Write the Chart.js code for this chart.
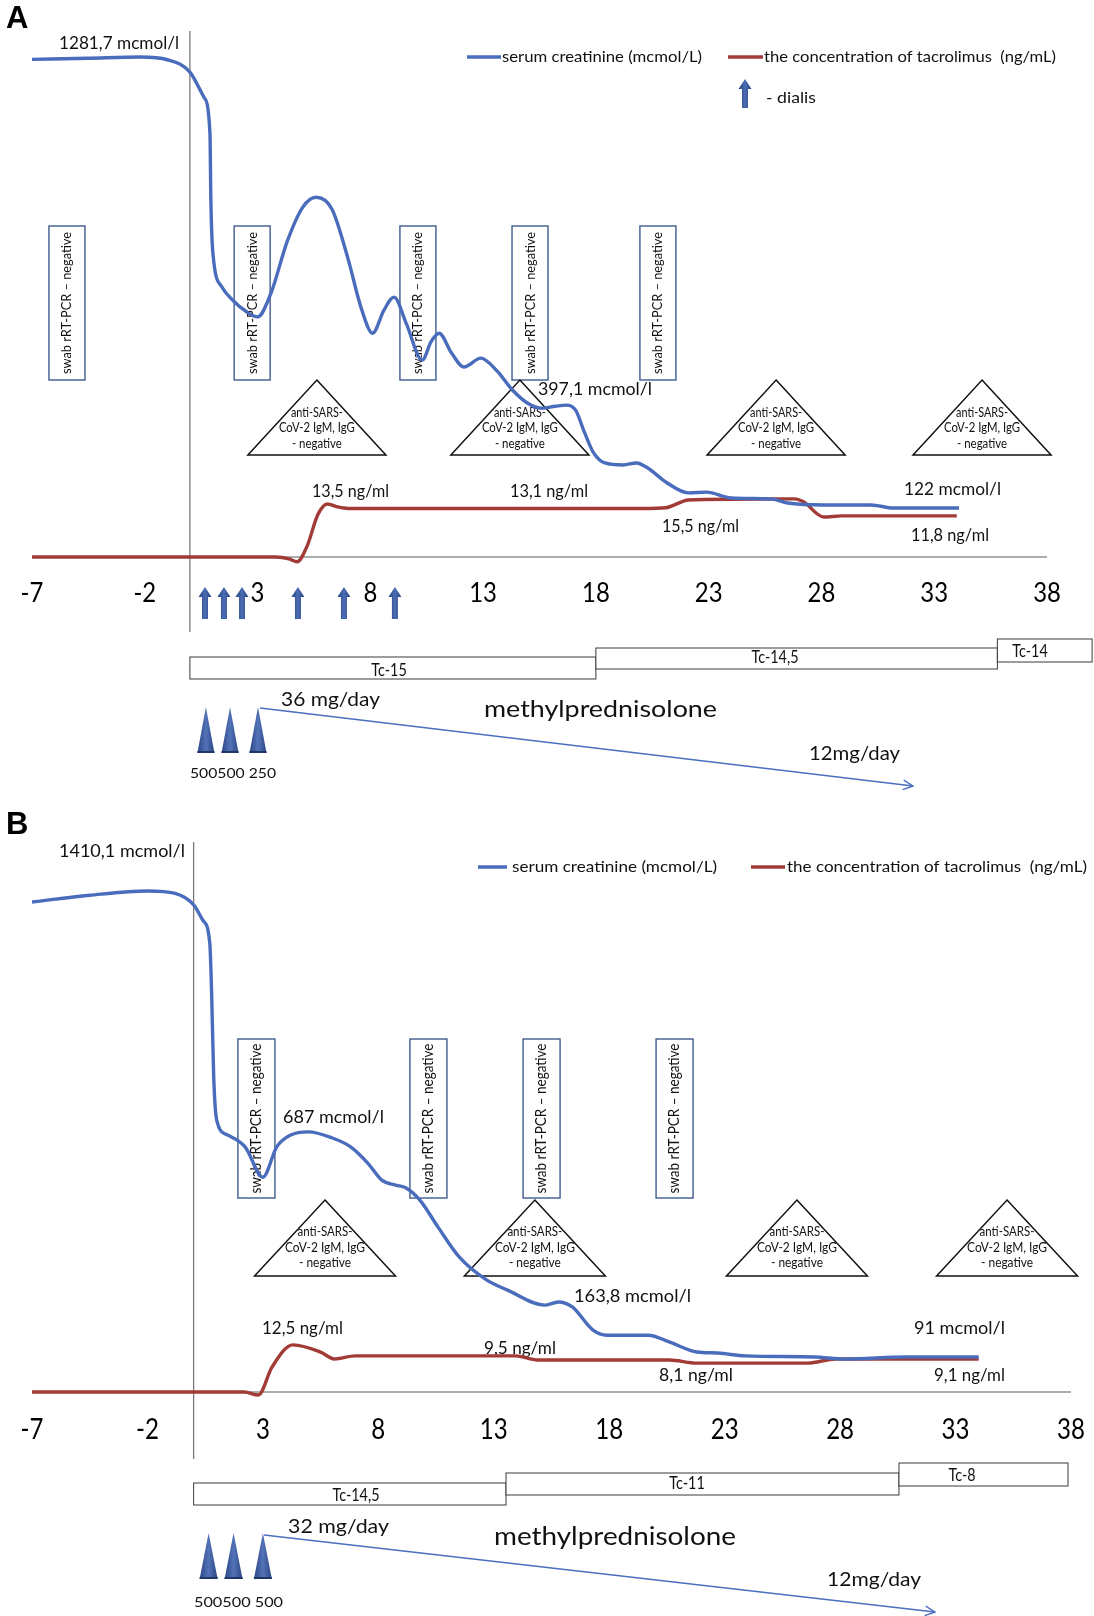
<!DOCTYPE html>
<html>
<head>
<meta charset="utf-8">
<script src="https://cdn.jsdelivr.net/npm/chart.js@4"></script>
<style>
  body { margin: 0; background: #fff; width: 1094px; height: 1616px; overflow: hidden; }
  canvas { display: block; }
</style>
</head>
<body>
<canvas id="chartA" width="1094" height="808"></canvas>
<canvas id="chartB" width="1094" height="808"></canvas>
<script>
// ---------- data ----------
const xTicks = [-7, -2, 3, 8, 13, 18, 23, 28, 33, 38];

// Panel A
const creatDaysA = [-7, -4.5, -2.2, -1, 0, 0.62, 0.89, 0.93, 1.02, 1.42, 1.9, 2.5, 3.0, 3.6, 4.3, 5.0, 5.6, 6.3, 7.0, 7.6, 8.1, 8.6, 9.05, 9.6, 10.3, 10.7, 11.05, 11.6, 12.15, 12.9, 13.6, 14.3, 15.0, 15.6, 16.2, 16.7, 17.1, 17.5, 17.9, 18.4, 19.2, 19.8, 20.3, 21.1, 22.1, 22.9, 24.0, 25.8, 26.5, 28.1, 30.2, 31.2, 34.1];
const creatA = [1281, 1284, 1287, 1280, 1248, 1184, 1091, 919, 782, 695, 661, 632, 618, 680, 810, 900, 926, 895, 770, 640, 576, 635, 669, 600, 507, 555, 576, 525, 489, 512, 480, 430, 395, 383, 388, 391, 378, 320, 268, 242, 237, 242, 229, 193, 165, 167, 152, 149, 139, 134, 134, 126, 126];
const tacroDaysA = [-7, 0, 3.8, 4.4, 4.75, 5.2, 5.67, 6.1, 6.5, 7.0, 13, 20.1, 21.1, 22.1, 24, 26.8, 27.2, 28.1, 28.9, 34];
const tacroA = [0, 0, 0, -0.5, -1.3, 3, 11.4, 14.3, 13.6, 13.1, 13.1, 13.1, 13.3, 15.4, 15.6, 15.7, 14.9, 10.8, 11.1, 11.1];
const swabDaysA = [-5.45, 2.76, 10.11, 15.08, 20.75];
const antibodyDaysA = [5.63, 14.63, 25.99, 35.12];
const dialysisDaysA = [0.67, 1.51, 2.31, 4.79, 6.83, 9.09];
const tcLabelsA = ['Tc-15', 'Tc-14,5', 'Tc-14'];
const tcStartA = [0, 18, 35.8];
const tcEndA = [18, 35.8, 40];
const pulseDaysA = [0.71, 1.78, 3.02];
const valueTextA = ['1281,7 mcmol/l', '13,5 ng/ml', '13,1 ng/ml', '397,1 mcmol/l', '15,5 ng/ml', '122 mcmol/l', '11,8 ng/ml'];
const methylTextA = ['36 mg/day', 'methylprednisolone', '12mg/day', '500500 250'];

// Panel B
const creatDaysB = [-7, -4.5, -2.0, -0.8, 0, 0.4, 0.7, 0.78, 0.87, 1.0, 1.47, 2.23, 3.0, 3.6, 4.2, 4.97, 6.0, 6.8, 7.55, 8.15, 8.75, 9.2, 9.8, 10.6, 11.5, 12.7, 13.6, 15.2, 15.8, 16.4, 17.3, 17.9, 19.7, 20.6, 21.8, 22.7, 23.9, 26.9, 28.2, 30.9, 34];
const creatB = [1371, 1390, 1402, 1395, 1363, 1320, 1256, 1116, 881, 761, 719, 686, 601, 686, 719, 728, 711, 686, 640, 593, 579, 571, 537, 460, 378, 313, 285, 243, 252, 238, 173, 159, 159, 140, 112, 109, 101, 98, 92, 98, 98];
const tacroDaysB = [-7, 0, 2.2, 2.8, 3.4, 4.3, 5.5, 6.1, 7.0, 13.95, 14.9, 20.6, 21.8, 26.6, 27.8, 34];
const tacroB = [0, 0, 0, -0.8, 6.6, 12.4, 10.5, 8.7, 9.5, 9.5, 8.4, 8.4, 7.6, 7.6, 8.7, 8.7];
const swabDaysB = [2.72, 10.17, 15.07, 20.83];
const antibodyDaysB = [5.69, 14.78, 26.13, 35.23];
const dialysisDaysB = [];
const tcLabelsB = ['Tc-14,5', 'Tc-11', 'Tc-8'];
const tcStartB = [0, 13.53, 30.55];
const tcEndB = [13.53, 30.55, 37.87];
const pulseDaysB = [0.65, 1.73, 3.0];
const valueTextB = ['1410,1 mcmol/l', '687 mcmol/l', '163,8 mcmol/l', '12,5 ng/ml', '9,5 ng/ml', '91 mcmol/l', '8,1 ng/ml', '9,1 ng/ml'];
const methylTextB = ['32 mg/day', 'methylprednisolone', '12mg/day', '500500 500'];

const seriesLabels = ['serum creatinine (mcmol/L)', 'the concentration of tacrolimus  (ng/mL)'];

// ---------- styles / layout ----------
const FONT = 'Lato, "Open Sans", sans-serif';
const BLUE = '#4A6CBC';
const RED = '#A23B36';
const BOX = '#3F5C90';
const INK = '#111';

const layoutA = {
  padding: { left: 32, right: 47, top: 31, bottom: 251 },
  creatMax: 1354, tacroMax: 142,
  letter: ['A', 6, 19, 31],
  vLineBottom: 632,
  legend: { y: 57, lines: [[467, 501], [728, 763]], textX: [502, 764], textW: [200, 292], size: 16 },
  dialisKey: { x: 745, top: 79, bottom: 108, textX: 766, textY: 98, textW: 50 },
  swab: { w: 36, top: 226, bottom: 380, size: 14, textW: 142 },
  antibody: { apex: 380, base: 455, half: 69, lineY: [413, 428, 444], lineW: [52, 76, 50], size: 12.5 },
  valuePos: [[59, 43, 120], [312, 491, 77], [510, 491, 78], [538, 389, 114], [662, 526, 77], [904, 489, 97], [911, 535, 78]],
  valueSize: 17.5,
  dialysis: { top: 587, bottom: 619 },
  ticks: { y: 594, size: 26, sx: 0.92 },
  tc: { top: [657, 648, 639], bottom: [679, 669, 662], textX: [389, 775, 1030], textY: [670, 657, 651], size: 18, sx: 0.8 },
  pulse: { apex: 707, base: 753, half: 8.5 },
  methylPos: [[281, 700, 99, 19], [484, 710, 233, 23], [809, 754, 91, 19], [190, 773, 86, 14]],
  arrow: [[260, 708], [913, 786]],
};

const layoutB = {
  padding: { left: 32, right: 23, top: 34, bottom: 224 },
  creatMax: 1539, tacroMax: 144.7,
  letter: ['B', 6, 17, 31],
  vLineBottom: 651,
  legend: { y: 59, lines: [[478, 507], [751, 785]], textX: [512, 787], textW: [205, 300], size: 16 },
  dialisKey: null,
  swab: { w: 37, top: 231, bottom: 390, size: 14.5, textW: 150 },
  antibody: { apex: 392, base: 468, half: 70.5, lineY: [424, 440, 455], lineW: [55, 80, 52], size: 12.5 },
  valuePos: [[59, 43, 126], [283, 309, 101], [574, 488, 117], [262, 520, 81], [484, 540, 72], [914, 520, 91], [659, 567, 74], [934, 567, 71]],
  valueSize: 17.5,
  dialysis: null,
  ticks: { y: 622, size: 29, sx: 0.83 },
  tc: { top: [675, 665, 655], bottom: [697, 687, 678], textX: [356, 687, 962], textY: [687, 675, 667], size: 18, sx: 0.8 },
  pulse: { apex: 725, base: 771, half: 9 },
  methylPos: [[288, 719, 101, 20], [494, 729, 242, 25], [827, 772, 94, 20], [194, 794, 89, 14]],
  arrow: [[264, 727], [935, 804]],
};

// ---------- helpers ----------
function text(ctx, s, x, y, size, width, align, opts = {}) {
  ctx.save();
  ctx.font = `${opts.bold ? 'bold ' : ''}${size}px ${opts.family || FONT}`;
  ctx.fillStyle = opts.color || INK;
  ctx.textBaseline = 'middle';
  ctx.textAlign = align || 'left';
  const sx = width ? width / ctx.measureText(s).width : (opts.sx || 1);
  ctx.translate(x, y);
  if (opts.rotate) ctx.rotate(opts.rotate);
  ctx.scale(sx, 1);
  ctx.fillText(s, 0, 0);
  ctx.restore();
}

function upArrow(ctx, x, top, bottom) {
  const headH = 10, headW = 6.5, shaftW = 3;
  const g = ctx.createLinearGradient(x - headW, 0, x + headW, 0);
  g.addColorStop(0, '#23407E');
  g.addColorStop(0.5, '#4D6DB4');
  g.addColorStop(1, '#23407E');
  ctx.save();
  ctx.fillStyle = g;
  ctx.beginPath();
  ctx.moveTo(x, top);
  ctx.lineTo(x + headW, top + headH);
  ctx.lineTo(x + shaftW, top + headH);
  ctx.lineTo(x + shaftW, bottom);
  ctx.lineTo(x - shaftW, bottom);
  ctx.lineTo(x - shaftW, top + headH);
  ctx.lineTo(x - headW, top + headH);
  ctx.closePath();
  ctx.fill();
  ctx.restore();
}

function annotations(p) {
  return {
    id: 'annotations',
    beforeDatasetsDraw(chart) {
      const { ctx, chartArea } = chart;
      const x = chart.scales.x, yc = chart.scales.yc;
      const L = p.layout;
      const px = d => x.getPixelForValue(d);
      const zeroY = yc.getPixelForValue(0);

      text(ctx, L.letter[0], L.letter[1], L.letter[2], L.letter[3], null, 'left',
        { bold: true, family: '"Liberation Sans", Arial, sans-serif', color: '#000' });

      // axis line at zero and vertical line at day 0
      ctx.save();
      ctx.strokeStyle = '#909090';
      ctx.lineWidth = 1.5;
      ctx.beginPath(); ctx.moveTo(x.left, zeroY); ctx.lineTo(x.right, zeroY); ctx.stroke();
      ctx.strokeStyle = '#7a7a7a';
      ctx.lineWidth = 1.3;
      ctx.beginPath(); ctx.moveTo(px(0), chartArea.top); ctx.lineTo(px(0), L.vLineBottom); ctx.stroke();
      ctx.restore();

      // tick labels
      xTicks.forEach(t => text(ctx, String(t), px(t), L.ticks.y, L.ticks.size, null, 'center', { sx: L.ticks.sx, color: '#000' }));

      // legend
      chart.data.datasets.forEach((ds, i) => {
        const [x1, x2] = L.legend.lines[i];
        ctx.save();
        ctx.strokeStyle = ds.borderColor;
        ctx.lineWidth = 3.5;
        ctx.beginPath(); ctx.moveTo(x1, L.legend.y); ctx.lineTo(x2, L.legend.y); ctx.stroke();
        ctx.restore();
        text(ctx, ds.label, L.legend.textX[i], L.legend.y, L.legend.size, L.legend.textW[i], 'left');
      });
      if (L.dialisKey) {
        const k = L.dialisKey;
        upArrow(ctx, k.x, k.top, k.bottom);
        text(ctx, '- dialis', k.textX, k.textY, L.legend.size, k.textW, 'left');
      }

      // swab boxes
      const S = L.swab;
      p.swabDays.forEach(d => {
        const cx = px(d);
        ctx.save();
        ctx.strokeStyle = BOX;
        ctx.lineWidth = 1.4;
        ctx.strokeRect(cx - S.w / 2, S.top, S.w, S.bottom - S.top);
        ctx.restore();
        text(ctx, 'swab rRT-PCR \u2013 negative', cx, (S.top + S.bottom) / 2, S.size, S.textW, 'center', { rotate: -Math.PI / 2 });
      });

      // antibody triangles
      const A = L.antibody;
      const abLines = ['anti-SARS-', 'CoV-2 IgM, IgG', '- negative'];
      p.antibodyDays.forEach(d => {
        const cx = px(d);
        ctx.save();
        ctx.strokeStyle = '#111';
        ctx.lineWidth = 1.5;
        ctx.beginPath();
        ctx.moveTo(cx, A.apex);
        ctx.lineTo(cx + A.half, A.base);
        ctx.lineTo(cx - A.half, A.base);
        ctx.closePath();
        ctx.stroke();
        ctx.restore();
        abLines.forEach((s, i) => text(ctx, s, cx, A.lineY[i], A.size, A.lineW[i], 'center'));
      });

      // value labels
      p.valueText.forEach((s, i) => {
        const [lx, ly, lw] = L.valuePos[i];
        text(ctx, s, lx, ly, L.valueSize, lw, 'left');
      });

      // dialysis arrows
      if (L.dialysis) p.dialysisDays.forEach(d => upArrow(ctx, px(d), L.dialysis.top, L.dialysis.bottom));

      // tacrolimus dose boxes
      p.tcLabels.forEach((s, i) => {
        const x1 = px(p.tcStart[i]), x2 = px(p.tcEnd[i]);
        ctx.save();
        ctx.fillStyle = '#fff';
        ctx.strokeStyle = '#3a3a3a';
        ctx.lineWidth = 1;
        ctx.fillRect(x1, L.tc.top[i], x2 - x1, L.tc.bottom[i] - L.tc.top[i]);
        ctx.strokeRect(x1, L.tc.top[i], x2 - x1, L.tc.bottom[i] - L.tc.top[i]);
        ctx.restore();
      });
      p.tcLabels.forEach((s, i) => text(ctx, s, L.tc.textX[i], L.tc.textY[i], L.tc.size, null, 'center', { sx: L.tc.sx }));

      // methylprednisolone pulses
      const P = L.pulse;
      p.pulseDays.forEach(d => {
        const cx = px(d);
        const g = ctx.createLinearGradient(cx - P.half, 0, cx + P.half, 0);
        g.addColorStop(0, '#2A4684');
        g.addColorStop(0.5, '#5373B8');
        g.addColorStop(1, '#2A4684');
        ctx.save();
        ctx.fillStyle = g;
        ctx.beginPath();
        ctx.moveTo(cx, P.apex);
        ctx.lineTo(cx + P.half, P.base);
        ctx.lineTo(cx - P.half, P.base);
        ctx.closePath();
        ctx.fill();
        ctx.fillStyle = '#1F3668';
        ctx.fillRect(cx - P.half, P.base - 2, P.half * 2, 2);
        ctx.restore();
      });

      // tapering arrow
      const [[ax1, ay1], [ax2, ay2]] = L.arrow;
      ctx.save();
      ctx.strokeStyle = '#4A6FC0';
      ctx.lineWidth = 1.4;
      ctx.beginPath(); ctx.moveTo(ax1, ay1); ctx.lineTo(ax2, ay2); ctx.stroke();
      const ang = Math.atan2(ay2 - ay1, ax2 - ax1);
      ctx.beginPath();
      ctx.moveTo(ax2 - 11 * Math.cos(ang - 0.45), ay2 - 11 * Math.sin(ang - 0.45));
      ctx.lineTo(ax2, ay2);
      ctx.lineTo(ax2 - 11 * Math.cos(ang + 0.45), ay2 - 11 * Math.sin(ang + 0.45));
      ctx.stroke();
      ctx.restore();

      p.methylText.forEach((s, i) => {
        const [mx, my, mw, ms] = L.methylPos[i];
        text(ctx, s, mx, my, ms, mw, 'left');
      });
    }
  };
}

function makePanel(id, p) {
  const L = p.layout;
  const toPoints = (days, vals) => days.map((d, i) => ({ x: d, y: vals[i] }));
  new Chart(document.getElementById(id), {
    type: 'line',
    data: {
      datasets: [
        {
          label: seriesLabels[0],
          data: toPoints(p.creatDays, p.creat),
          yAxisID: 'yc',
          borderColor: BLUE,
          borderWidth: 3.4,
          pointRadius: 0,
          cubicInterpolationMode: 'monotone',
          clip: false,
        },
        {
          label: seriesLabels[1],
          data: toPoints(p.tacroDays, p.tacro),
          yAxisID: 'yt',
          borderColor: RED,
          borderWidth: 3.4,
          pointRadius: 0,
          cubicInterpolationMode: 'monotone',
          clip: false,
        },
      ],
    },
    options: {
      responsive: false,
      animation: false,
      devicePixelRatio: 1,
      layout: { padding: L.padding },
      plugins: { legend: { display: false }, tooltip: { enabled: false } },
      scales: {
        x: { type: 'linear', min: -7, max: 38, display: false },
        yc: { type: 'linear', min: 0, max: L.creatMax, display: false },
        yt: { type: 'linear', min: 0, max: L.tacroMax, display: false },
      },
    },
    plugins: [annotations(p)],
  });
}

makePanel('chartA', {
  layout: layoutA,
  creatDays: creatDaysA, creat: creatA, tacroDays: tacroDaysA, tacro: tacroA,
  swabDays: swabDaysA, antibodyDays: antibodyDaysA, dialysisDays: dialysisDaysA,
  tcLabels: tcLabelsA, tcStart: tcStartA, tcEnd: tcEndA,
  pulseDays: pulseDaysA, valueText: valueTextA, methylText: methylTextA,
});

makePanel('chartB', {
  layout: layoutB,
  creatDays: creatDaysB, creat: creatB, tacroDays: tacroDaysB, tacro: tacroB,
  swabDays: swabDaysB, antibodyDays: antibodyDaysB, dialysisDays: dialysisDaysB,
  tcLabels: tcLabelsB, tcStart: tcStartB, tcEnd: tcEndB,
  pulseDays: pulseDaysB, valueText: valueTextB, methylText: methylTextB,
});
</script>
</body>
</html>
